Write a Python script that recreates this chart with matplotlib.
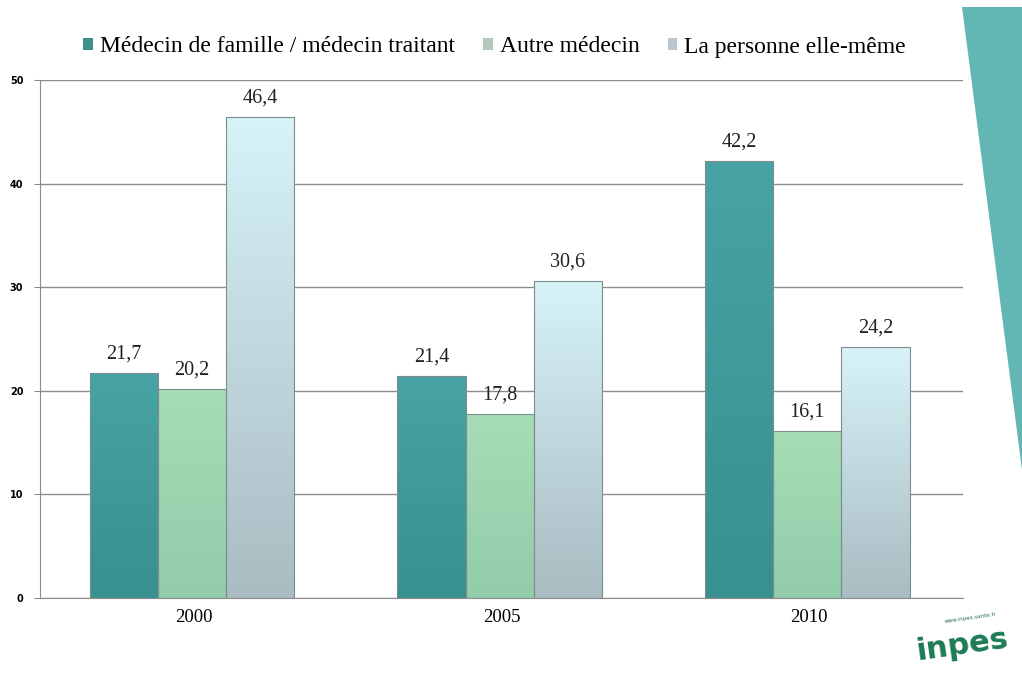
import numpy as np
import matplotlib.pyplot as plt
from matplotlib.patches import Polygon
from matplotlib.colors import LinearSegmentedColormap

plt.rcParams['font.family'] = ['Liberation Serif', 'DejaVu Serif']

years = ['2000', '2005', '2010']
series_names = ['Médecin de famille / médecin traitant', 'Autre médecin', 'La personne elle-même']
medecin_famille = [21.7, 21.4, 42.2]
autre_medecin = [20.2, 17.8, 16.1]
personne = [46.4, 30.6, 24.2]

values = [medecin_famille, autre_medecin, personne]
# each series is shaded from top colour to bottom colour
gradients = [('#48a3a5', '#38908f'),
             ('#a6ddb6', '#92ccaa'),
             ('#d6f3f8', '#a9bcc2')]
legend_colors = ['#3f8f8c', '#b5c9bb', '#b9c6cc']

fig = plt.figure(figsize=(10.22, 6.75), dpi=100)
fig.patch.set_facecolor('white')

# teal corner band on the right
band = Polygon([[962 / 1022, 1 - 7 / 675], [1.0, 1 - 7 / 675], [1.0, 1 - 470 / 675]],
               closed=True, transform=fig.transFigure, facecolor='#62b7b4',
               edgecolor='none', zorder=0)
fig.patches.append(band)

ax = fig.add_axes([40 / 1022, 1 - 598 / 675, 923 / 1022, 518 / 675])
ax.set_facecolor('none')

x = np.arange(len(years))
width = 0.222
offsets = [-width, 0, width]

for vals, off, (top, bottom), name, lc in zip(values, offsets, gradients, series_names, legend_colors):
    bars = ax.bar(x + off - 0.006, vals, width, color='none', edgecolor='#7f8c8c',
                  linewidth=0.8, zorder=3, label=name)
    cmap = LinearSegmentedColormap.from_list('g', [bottom, top])
    for b, v in zip(bars, vals):
        x0 = b.get_x()
        img = ax.imshow(np.linspace(0, 1, 100).reshape(-1, 1), cmap=cmap,
                        extent=[x0, x0 + b.get_width(), 0, v], origin='lower',
                        aspect='auto', zorder=2)
        img.set_clip_path(b)
        ax.text(x0 + b.get_width() / 2, v + 0.9, f'{v:.1f}'.replace('.', ','),
                ha='center', va='bottom', fontsize=14.5, color='#222222', zorder=4)

ax.set_xlim(-0.5, 2.5)
ax.set_ylim(0, 50)
ax.set_yticks(range(0, 51, 10))
ax.set_yticklabels([str(t) for t in range(0, 51, 10)], fontsize=7,
                   fontweight='bold', family='DejaVu Sans')
ax.set_xticks(x)
ax.set_xticklabels(years, fontsize=13.5)
ax.yaxis.grid(True, color='#8c8c8c', linewidth=1.0, zorder=1)
ax.set_axisbelow(True)
for side in ['top', 'right']:
    ax.spines[side].set_visible(False)
ax.spines['left'].set_color('#8c8c8c')
ax.spines['bottom'].set_color('#8c8c8c')
ax.tick_params(axis='x', length=0, pad=8)
ax.tick_params(axis='y', length=4, color='#8c8c8c', pad=8)

# legend with small square keys
handles = [plt.Rectangle((0, 0), 1, 1, facecolor=c, edgecolor='none') for c in legend_colors]
fig.legend(handles, series_names, loc='center', bbox_to_anchor=(0.484, 1 - 47 / 675),
           ncol=3, frameon=False, fontsize=17, handlelength=0.4, handleheight=0.4,
           handletextpad=0.3, columnspacing=1.2)

fig.text(0.942, 0.044, 'inpes', fontsize=22, fontweight='bold', color='#1c7a55',
         rotation=8, ha='center', va='center', family='DejaVu Sans')
fig.text(0.95, 0.085, 'www.inpes.sante.fr', fontsize=4, color='#2f6f55',
         rotation=8, ha='center', va='center', family='DejaVu Sans')

fig.savefig('out.png', dpi=100, facecolor='white')
